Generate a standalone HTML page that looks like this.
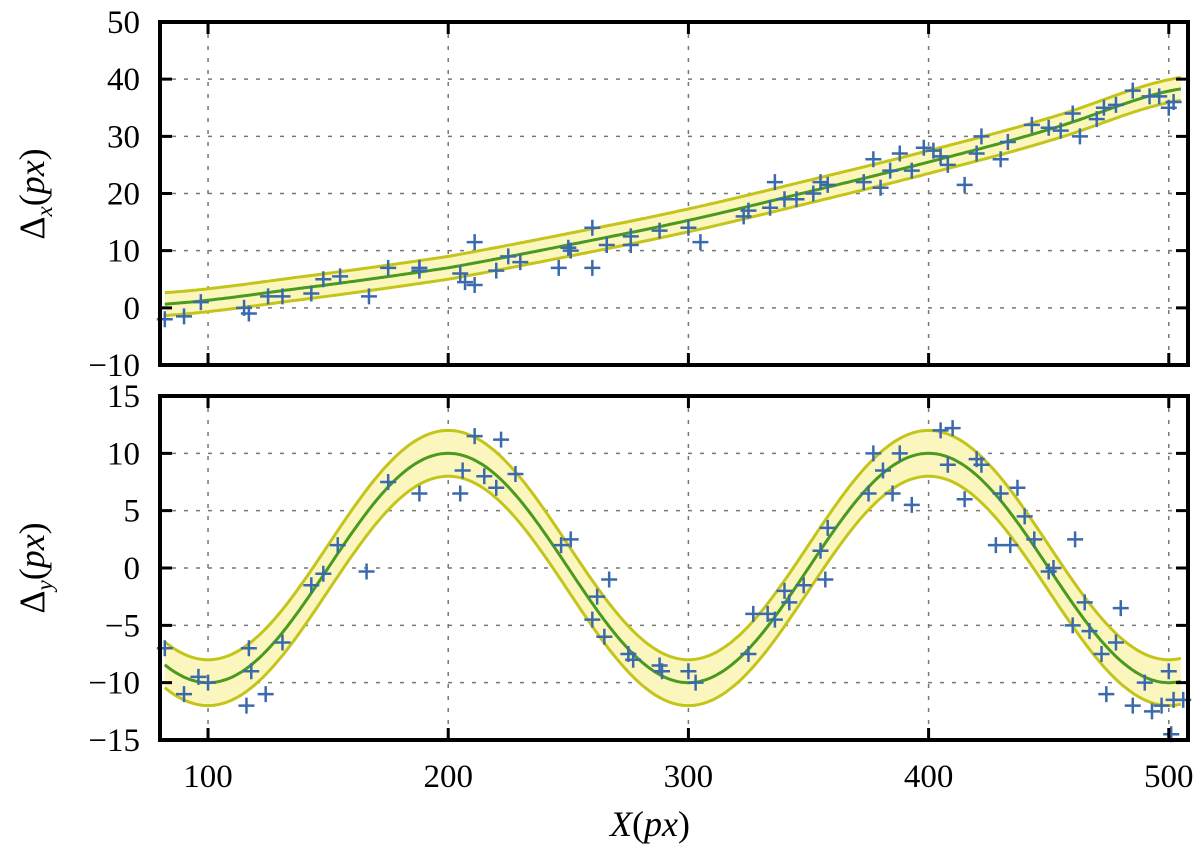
<!DOCTYPE html>
<html><head><meta charset="utf-8"><style>
html,body{margin:0;padding:0;background:#fff;}
svg{display:block;font-family:"Liberation Serif",serif;}
</style></head><body>
<svg id="chart" width="1200" height="849" viewBox="0 0 1200 849" xmlns="http://www.w3.org/2000/svg">
<g id="layer"></g>
</svg>
<script>
const xTicks=[100,200,300,400,500];
const topYTicks=[-10,0,10,20,30,40,50];
const botYTicks=[-15,-10,-5,0,5,10,15];
const topX=[82,90,97,115,117,125,131,143,148,155,167,175,188,188,205,207,211,211,220,225,230,246,250,251,260,260,266,276,276,288,300,305,323,325,334,336,340,345,352,355,358,373,377,380,384,388,393,398,402,405,408,415,420,422,430,433,443,450,455,460,463,470,473,478,485,492,496,500,502];
const topY=[-2,-1.5,1,0,-1,2,2,2.5,5,5.5,2,7,6.5,7,6,4.5,4,11.5,6.5,9,8,7,10.5,10,14,7,11,11,12.5,13.5,14,11.5,16,17,17.5,22,19,19,20,22,21.5,22,26,21,24,27,24,28,27.5,26.5,25,21.5,27,30,26,29,32,31.5,31,34,30,33,35,35.5,38,37,37,35,36];
const botX=[82,90,96,100,116,117,118,124,131,143,148,154,166,175,188,205,206,211,215,220,222,228,247,251,260,262,265,267,275,277,288,289,300,303,325,327,333,336,340,342,348,355,357,358,375,377,381,385,388,393,405,408,410,415,420,422,428,430,434,437,440,444,450,452,460,461,465,467,472,474,478,480,485,490,493,497,500,501,502,506];
const botY=[-7,-11,-9.5,-10,-12,-7,-9,-11,-6.5,-1.5,-0.5,2,-0.3,7.5,6.5,6.5,8.5,11.5,8,7,11.2,8.2,2,2.5,-4.5,-2.5,-6,-1,-7.5,-8,-8.5,-9,-9,-10,-7.5,-4,-4,-4.5,-2,-3,-1.5,1.5,-1,3.5,6.5,10,8.5,6.5,10,5.5,12,9,12.2,6,9.5,9,2,6.5,2,7,4.5,2.5,-0.3,0,-5,2.5,-3,-5.5,-7.5,-11,-6.5,-3.5,-12,-10,-12.5,-12,-9,-14.5,-11.5,-11.5];
const topFitX=[80,140,200,250,300,350,400,450,505];
const topFitY=[0.6,3.5,7,11,15.3,20.3,25.5,31.2,38.3];
const bandHalf=2;

const NS="http://www.w3.org/2000/svg";
const layer=document.getElementById('layer');
const L=160,R=1188;
const sx=v=>L+(v-80)*(R-L)/(508-80);
const P1={t:22,b:365,min:-10,max:50}, P2={t:396,b:740,min:-15,max:15};
const sy=(p,v)=>p.b-(v-p.min)*(p.b-p.t)/(p.max-p.min);
function mk(tag,attrs,parent){const e=document.createElementNS(NS,tag);for(const k in attrs)e.setAttribute(k,attrs[k]);(parent||layer).appendChild(e);return e;}
function interp(xs,ys,x){for(let i=0;i<xs.length-1;i++){if(x<=xs[i+1]){const t=(x-xs[i])/(xs[i+1]-xs[i]);const a=ys[Math.max(i-1,0)],b=ys[i],c=ys[i+1],d=ys[Math.min(i+2,ys.length-1)];return b+0.5*t*(c-a+t*(2*a-5*b+4*c-d+t*(3*(b-c)+d-a)));}}return ys[ys.length-1];}
const fTop=x=>interp(topFitX,topFitY,x);
const fBot=x=>-10*Math.cos(Math.PI*(x-100)/100);

function panel(p,yt,fx,px,py,name){
  const g=mk('g',{});
  
  
  xTicks.forEach(v=>{const l=mk('line',{x1:sx(v),x2:sx(v),y1:p.t,y2:p.b,stroke:'#777','stroke-width':1.5,'stroke-dasharray':'4 8'},g);});
  yt.forEach(v=>{if(v===p.min||v===p.max)return;const l=mk('line',{x1:L,x2:R,y1:sy(p,v),y2:sy(p,v),stroke:'#777','stroke-width':1.5,'stroke-dasharray':'4 8'},g);});
  let up=[],lo=[],mid=[];
  for(let x=82;x<=505;x+=1){const y=fx(x);up.push([sx(x),sy(p,y+bandHalf)]);lo.push([sx(x),sy(p,y-bandHalf)]);mid.push([sx(x),sy(p,y)]);}
  const ps=a=>a.map(q=>q[0].toFixed(1)+','+q[1].toFixed(1)).join(' ');
  const band=mk('polygon',{points:ps(up)+' '+ps(lo.slice().reverse()),fill:'#fbf5be',stroke:'none'},g);
  
  [up,lo].forEach(a=>{const l=mk('polyline',{points:ps(a),fill:'none',stroke:'#c4c41a','stroke-width':3},g);});
  const fl=mk('polyline',{points:ps(mid),fill:'none',stroke:'#4a9a1e','stroke-width':3},g);
  
  px.forEach((x,i)=>{const cx=sx(x),cy=sy(p,py[i]);const m=mk('path',{d:`M${cx-8},${cy}H${cx+8}M${cx},${cy-8}V${cy+8}`,stroke:'#3a6aac','stroke-width':2.5},g);});
  xTicks.forEach(v=>{const t=mk('path',{d:`M${sx(v)},${p.b}v-12M${sx(v)},${p.t}v12`,stroke:'#000','stroke-width':3},g);});
  yt.forEach(v=>{const y=sy(p,v);const t=mk('path',{d:`M${L},${y}h12M${R},${y}h-12`,stroke:'#000','stroke-width':3},g);
    const tx=mk('text',{x:140,y:y+11,'font-size':33,'text-anchor':'end'},g);tx.textContent=(v<0?'\u2212':'')+Math.abs(v);});
  const fr=mk('rect',{x:L,y:p.t,width:R-L,height:p.b-p.t,fill:'none',stroke:'#000','stroke-width':4},g);
  
}
panel(P1,topYTicks,fTop,topX,topY,'top-panel');
panel(P2,botYTicks,fBot,botX,botY,'bottom-panel');
xTicks.forEach(v=>{const t=mk('text',{x:sx(v),y:787,'font-size':33,'text-anchor':'middle'});t.textContent=v;});
const xl=mk('text',{x:650,y:836,'font-size':36,'text-anchor':'middle'});
xl.innerHTML='<tspan font-style="italic">X</tspan>(<tspan font-style="italic">px</tspan>)';

function ylab(cy,sub,name){const t=mk('text',{transform:`translate(44,${cy}) rotate(-90)`,'font-size':36,'text-anchor':'middle'});
  t.innerHTML=`Δ<tspan font-size="23" font-style="italic" dy="8">${sub}</tspan><tspan dy="-8">(</tspan><tspan font-style="italic">px</tspan>)`;
  }
ylab(194,'x','top-y-axis-title');
ylab(568,'y','bottom-y-axis-title');
</script>
</body></html>
